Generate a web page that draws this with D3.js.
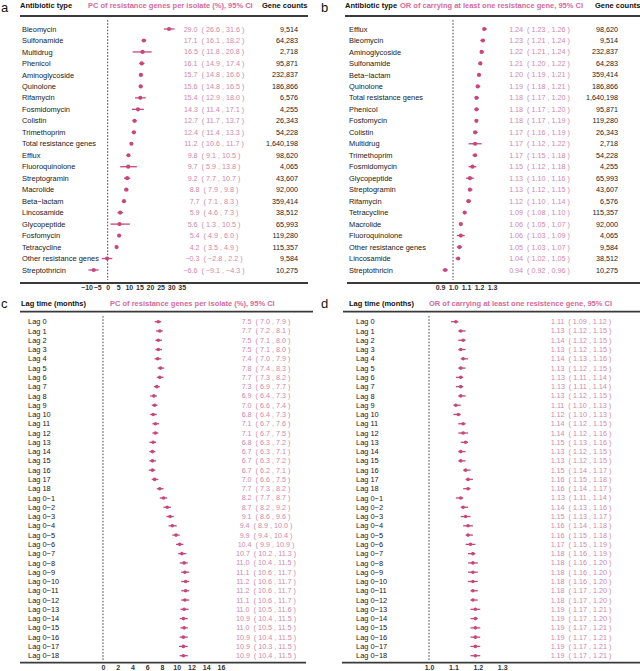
<!DOCTYPE html>
<html><head><meta charset="utf-8">
<script src="https://cdn.jsdelivr.net/npm/d3@7"></script>
<style>
body{margin:0;background:#fff}
text{font-family:"Liberation Sans",Arial,Helvetica,sans-serif}
</style></head><body>
<svg id="chart" width="640" height="671"></svg>
<script>
// ---------- DATA ----------
const aTypes = ["Bleomycin","Sulfonamide","Multidrug","Phenicol","Aminoglycoside","Quinolone","Rifamycin","Fosmidomycin","Colistin","Trimethoprim","Total resistance genes","Efflux","Fluoroquinolone","Streptogramin","Macrolide","Beta\u2212lactam","Lincosamide","Glycopeptide","Fosfomycin","Tetracycline","Other resistance genes","Streptothricin"];
const aEst = [29.0,17.1,16.5,16.1,15.7,15.6,15.4,14.3,12.7,12.4,11.2,9.8,9.7,9.2,8.8,7.7,5.9,5.6,5.4,4.2,-0.3,-6.6];
const aLo  = [26.6,16.1,11.8,14.9,14.8,14.8,12.9,11.4,11.7,11.4,10.6,9.1,5.9,7.7,7.9,7.1,4.6,1.3,4.9,3.5,-2.8,-9.1];
const aHi  = [31.6,18.2,20.8,17.4,16.6,16.5,18.0,17.1,13.7,13.3,11.7,10.5,13.8,10.7,9.8,8.3,7.3,10.5,6.0,4.9,2.2,-4.3];
const aCounts = ["9,514","64,283","2,718","95,871","232,837","186,866","6,576","4,255","26,343","54,228","1,640,198","98,620","4,065","43,607","92,000","359,414","38,512","65,993","119,280","115,357","9,584","10,275"];
const aTicks = [-10,-5,0,5,10,15,20,25,30,35];

const bTypes = ["Efflux","Bleomycin","Aminoglycoside","Sulfonamide","Beta\u2212lactam","Quinolone","Total resistance genes","Phenicol","Fosfomycin","Colistin","Multidrug","Trimethoprim","Fosmidomycin","Glycopeptide","Streptogramin","Rifamycin","Tetracycline","Macrolide","Fluoroquinolone","Other resistance genes","Lincosamide","Streptothricin"];
const bEst = [1.24,1.23,1.22,1.21,1.20,1.19,1.18,1.18,1.18,1.17,1.17,1.17,1.15,1.13,1.13,1.12,1.09,1.06,1.06,1.05,1.04,0.94];
const bLo  = [1.23,1.21,1.21,1.20,1.19,1.18,1.17,1.17,1.17,1.16,1.12,1.15,1.12,1.10,1.12,1.10,1.08,1.05,1.03,1.03,1.02,0.92];
const bHi  = [1.26,1.24,1.24,1.22,1.21,1.21,1.20,1.20,1.19,1.19,1.22,1.18,1.18,1.16,1.15,1.14,1.10,1.07,1.09,1.07,1.05,0.96];
const bCounts = ["98,620","9,514","232,837","64,283","359,414","186,866","1,640,198","95,871","119,280","26,343","2,718","54,228","4,255","65,993","43,607","6,576","115,357","92,000","4,065","9,584","38,512","10,275"];
const bTicks = [0.9,1.0,1.1,1.2,1.3];

const lagLabels = ["Lag 0","Lag 1","Lag 2","Lag 3","Lag 4","Lag 5","Lag 6","Lag 7","Lag 8","Lag 9","Lag 10","Lag 11","Lag 12","Lag 13","Lag 14","Lag 15","Lag 16","Lag 17","Lag 18","Lag 0\u22121","Lag 0\u22122","Lag 0\u22123","Lag 0\u22124","Lag 0\u22125","Lag 0\u22126","Lag 0\u22127","Lag 0\u22128","Lag 0\u22129","Lag 0\u221210","Lag 0\u221211","Lag 0\u221212","Lag 0\u221213","Lag 0\u221214","Lag 0\u221215","Lag 0\u221216","Lag 0\u221217","Lag 0\u221218"];
const cEst = [7.5,7.7,7.5,7.5,7.4,7.8,7.7,7.3,6.9,7.0,6.8,7.1,7.1,6.8,6.7,6.7,6.7,7.0,7.7,8.2,8.7,9.1,9.4,9.9,10.4,10.7,11.0,11.1,11.2,11.2,11.1,11.0,10.9,11.0,10.9,10.9,10.9];
const cLo  = [7.0,7.2,7.1,7.1,7.0,7.4,7.3,6.9,6.4,6.6,6.4,6.7,6.7,6.3,6.3,6.3,6.2,6.6,7.3,7.7,8.2,8.6,8.9,9.4,9.9,10.2,10.4,10.6,10.6,10.6,10.6,10.5,10.4,10.5,10.4,10.3,10.4];
const cHi  = [7.9,8.1,8.0,8.0,7.9,8.3,8.2,7.7,7.3,7.4,7.3,7.6,7.5,7.2,7.1,7.2,7.1,7.5,8.2,8.7,9.2,9.6,10.0,10.4,10.9,11.3,11.5,11.7,11.7,11.7,11.7,11.6,11.5,11.5,11.5,11.5,11.5];
const cTicks = [0,2,4,6,8,10,12,14,16];

const dEst = [1.11,1.13,1.14,1.13,1.14,1.13,1.13,1.13,1.13,1.11,1.12,1.14,1.14,1.15,1.13,1.13,1.15,1.16,1.16,1.13,1.14,1.15,1.16,1.16,1.17,1.18,1.18,1.18,1.18,1.18,1.18,1.19,1.19,1.19,1.19,1.19,1.19];
const dLo  = [1.09,1.12,1.12,1.12,1.13,1.12,1.11,1.11,1.12,1.10,1.10,1.12,1.12,1.13,1.12,1.12,1.14,1.15,1.14,1.11,1.13,1.13,1.14,1.15,1.15,1.16,1.16,1.16,1.16,1.17,1.17,1.17,1.17,1.17,1.17,1.17,1.17];
const dHi  = [1.12,1.15,1.15,1.15,1.16,1.15,1.14,1.14,1.15,1.13,1.13,1.15,1.16,1.16,1.15,1.15,1.17,1.18,1.17,1.14,1.16,1.17,1.18,1.18,1.19,1.19,1.20,1.20,1.20,1.20,1.20,1.21,1.20,1.21,1.21,1.21,1.21];
const dTicks = [1.0,1.1,1.2,1.3];

// ---------- STYLE ----------
const C = {label:"#1a1a1a", pinkText:"#d088ab", pinkHead:"#d56a9c", mark:"#c4477d", rule:"#3a3a3a"};
const svg = d3.select("#chart");

function panel(p){
  const g = svg.append("g");
  g.append("text").attr("x",p.letterX).attr("y",p.letterY).attr("font-size",13).attr("fill","#111").text(p.letter);
  g.append("text").attr("x",p.headX).attr("y",p.headY).attr("font-size",7.5).attr("font-weight","bold").attr("fill","#111").text(p.head1);
  g.append("text").attr("x",p.head2X).attr("y",p.headY).attr("font-size",7.5).attr("font-weight","bold").attr("fill",C.pinkHead).text(p.head2);
  if(p.head3) g.append("text").attr("x",p.head3X).attr("y",p.headY).attr("font-size",7.5).attr("font-weight","bold").attr("fill","#111").text(p.head3);
  g.append("line").attr("x1",p.topX[0]).attr("x2",p.topX[1]).attr("y1",p.topY).attr("y2",p.topY).attr("stroke",C.rule).attr("stroke-width",1.8);
  g.append("line").attr("x1",p.botX[0]).attr("x2",p.botX[1]).attr("y1",p.botY).attr("y2",p.botY).attr("stroke",C.rule).attr("stroke-width",1.8);
  const x = p.x, y = p.y;
  g.append("line").attr("x1",x(p.ref)).attr("x2",x(p.ref)).attr("y1",p.dashY[0]).attr("y2",p.dashY[1])
    .attr("stroke","#333").attr("stroke-width",0.9).attr("stroke-dasharray","1.6,1.6");
  const rows = p.labels.map((l,i)=>({l, e:p.est[i], lo:p.lo[i], hi:p.hi[i], n:p.counts?p.counts[i]:null}));
  g.selectAll(".lab").data(rows).enter().append("text")
    .attr("x",p.labX).attr("y",d=>y(d.l)).attr("dy","0.35em").attr("font-size",7.45).attr("fill",C.label).text(d=>d.l);
  g.selectAll(".ci").data(rows).enter().append("line")
    .attr("x1",d=>x(d.lo)).attr("x2",d=>x(d.hi)).attr("y1",d=>y(d.l)).attr("y2",d=>y(d.l))
    .attr("stroke",C.mark).attr("stroke-width",1.3);
  g.selectAll(".pt").data(rows).enter().append("circle")
    .attr("cx",d=>x(d.e)).attr("cy",d=>y(d.l)).attr("r",p.r).attr("fill",C.mark);
  const f = d3.format(p.fmt);
  g.selectAll(".val").data(rows).enter().append("text")
    .attr("x",p.valX).attr("y",d=>y(d.l)).attr("dy","0.35em").attr("text-anchor","middle")
    .attr("font-size",7.2).attr("fill",C.pinkText).style("white-space","pre")
    .text(d=>`${f(d.e)}  ( ${f(d.lo)} , ${f(d.hi)} )`);
  if(p.counts){
    g.selectAll(".cnt").data(rows).enter().append("text")
      .attr("x",p.cntX).attr("y",d=>y(d.l)).attr("dy","0.35em").attr("text-anchor","end")
      .attr("font-size",7.2).attr("fill",C.label).text(d=>d.n);
  }
  const ax = g.append("g").attr("transform",`translate(0,${p.axisY})`)
    .call(d3.axisBottom(x).tickValues(p.ticks).tickSize(0).tickPadding(0).tickFormat(d3.format(p.tickFmt)));
  ax.select(".domain").remove();
  ax.selectAll("text").attr("font-size",7).attr("font-weight","bold").attr("fill","#333")
    .attr("font-family",'"Liberation Sans",Arial,sans-serif');
}

panel({letter:"a",letterX:1,letterY:12,head1:"Antibiotic type",headX:20,head2:"PC of resistance genes per isolate (%), 95% CI",head2X:88,head3:"Gene counts",head3X:262,headY:8.3,
  topX:[20,308],topY:16,botX:[20,308],botY:283,
  x:d3.scaleLinear().domain([0,35]).range([107.7,181.7]), y:d3.scalePoint().domain(aTypes).range([29,270]),
  ref:0,dashY:[20,280],labels:aTypes,est:aEst,lo:aLo,hi:aHi,counts:aCounts,labX:22,valX:214,cntX:298,
  r:2.1,fmt:".1f",ticks:aTicks,tickFmt:"d",axisY:285});

panel({letter:"b",letterX:321,letterY:12,head1:"Antibiotic type",headX:345,head2:"OR of carrying at least one resistance gene, 95% CI",head2X:400,head3:"Gene counts",head3X:595,headY:8.3,
  topX:[345,640],topY:16,botX:[347,640],botY:283,
  x:d3.scaleLinear().domain([1.0,1.3]).range([453,492]), y:d3.scalePoint().domain(bTypes).range([29,270]),
  ref:1.0,dashY:[20,280],labels:bTypes,est:bEst,lo:bLo,hi:bHi,counts:bCounts,labX:349,valX:539.5,cntX:618,
  r:2.1,fmt:".2f",ticks:bTicks,tickFmt:".1f",axisY:285});

panel({letter:"c",letterX:1,letterY:308,head1:"Lag time (months)",headX:21,head2:"PC of resistance genes per isolate (%), 95% CI",head2X:110,headY:306,
  topX:[20,313],topY:311.7,botX:[20,306],botY:662.7,
  x:d3.scaleLinear().domain([0,16]).range([103,221]), y:d3.scalePoint().domain(lagLabels).range([321.7,655.7]),
  ref:0,dashY:[316,660],labels:lagLabels,est:cEst,lo:cLo,hi:cHi,counts:null,labX:28,valX:266,
  r:1.8,fmt:".1f",ticks:cTicks,tickFmt:"d",axisY:665});

panel({letter:"d",letterX:321,letterY:308,head1:"Lag time (months)",headX:349,head2:"OR of carrying at least one resistence gene, 95% CI",head2X:429,headY:306,
  topX:[343,640],topY:311.7,botX:[342,640],botY:662.7,
  x:d3.scaleLinear().domain([1.0,1.3]).range([429,502.2]), y:d3.scalePoint().domain(lagLabels).range([321.7,655.7]),
  ref:1.0,dashY:[316,660],labels:lagLabels,est:dEst,lo:dLo,hi:dHi,counts:null,labX:356,valX:581,
  r:1.8,fmt:".2f",ticks:dTicks,tickFmt:".1f",axisY:665});
</script>
</body></html>
